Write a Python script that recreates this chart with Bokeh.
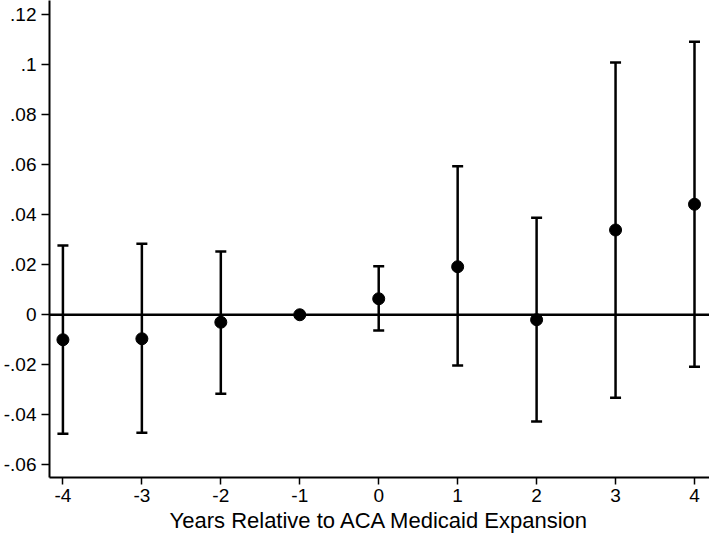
from bokeh.plotting import figure
from bokeh.models import (ColumnDataSource, Whisker, TeeHead, Span, FixedTicker,
                          CustomJSTickFormatter, Range1d)
from bokeh.embed import file_html
from bokeh.resources import INLINE

# ---- data ----
years = [-4, -3, -2, -1, 0, 1, 2, 3, 4]
estimate = [-0.0100, -0.0096, -0.0030, 0.0000, 0.0064, 0.0192, -0.0020, 0.0339, 0.0442]
ci_lower = [-0.0476, -0.0472, -0.0316, 0.0000, -0.0063, -0.0203, -0.0427, -0.0332, -0.0208]
ci_upper = [0.0277, 0.0284, 0.0253, 0.0000, 0.0194, 0.0594, 0.0388, 0.1009, 0.1092]
x_ticks = [-4, -3, -2, -1, 0, 1, 2, 3, 4]
y_ticks = [-0.06, -0.04, -0.02, 0.0, 0.02, 0.04, 0.06, 0.08, 0.1, 0.12]
x_title = "Years Relative to ACA Medicaid Expansion"

FONT = "Liberation Sans"

pts = ColumnDataSource(dict(x=years, y=estimate))
wh_idx = [i for i in range(len(years)) if ci_lower[i] != ci_upper[i]]
ci = ColumnDataSource(dict(x=[years[i] for i in wh_idx],
                           lower=[ci_lower[i] for i in wh_idx],
                           upper=[ci_upper[i] for i in wh_idx]))

p = figure(width=709, height=535, output_backend="svg", toolbar_location=None,
           x_range=Range1d(-4.17, 4.19), y_range=Range1d(-0.0651, 0.1257),
           min_border_left=48, min_border_right=0, min_border_top=0,
           min_border_bottom=58)
p.outline_line_color = None
p.background_fill_color = "white"
p.border_fill_color = "white"
p.xgrid.grid_line_color = None
p.ygrid.grid_line_color = None

zero = Span(location=0, dimension="width", line_color="black", line_width=2.5)
p.add_layout(zero)

wh = Whisker(source=ci, base="x", lower="lower", upper="upper",
             line_color="black", line_width=2.5,
             upper_head=TeeHead(size=11, line_color="black", line_width=2.5),
             lower_head=TeeHead(size=11, line_color="black", line_width=2.5))
p.add_layout(wh)

p.scatter("x", "y", source=pts, size=12, color="black", line_color="black")

yfmt = CustomJSTickFormatter(code="""
let s = tick.toFixed(2).replace(/0+$/, '').replace(/\\.$/, '');
s = s.replace(/^(-?)0\\./, '$1.');
if (s === '-0') { s = '0'; }
return s;
""")
xfmt = CustomJSTickFormatter(code="return Math.round(tick).toString();")

for ax in (p.xaxis[0], p.yaxis[0]):
    ax.axis_line_color = "black"
    ax.axis_line_width = 2
    ax.major_tick_line_color = "black"
    ax.major_tick_line_width = 1.5
    ax.minor_tick_line_color = None
    ax.major_tick_in = 0
    ax.major_label_text_font = FONT
    ax.major_label_text_font_size = "19px"
    ax.major_label_text_color = "black"

p.xaxis.ticker = FixedTicker(ticks=x_ticks)
p.xaxis.formatter = xfmt
p.xaxis.major_tick_out = 7
p.xaxis.major_label_standoff = 4
p.xaxis.axis_label = x_title
p.xaxis.axis_label_text_font = FONT
p.xaxis.axis_label_text_font_size = "22px"
p.xaxis.axis_label_text_font_style = "normal"
p.xaxis.axis_label_text_color = "black"
p.xaxis.axis_label_standoff = 3

p.yaxis.ticker = FixedTicker(ticks=y_ticks)
p.yaxis.formatter = yfmt
p.yaxis.major_tick_out = 8
p.yaxis.major_label_standoff = 5
p.yaxis.major_label_orientation = "horizontal"

open("out.html", "w").write(file_html(p, INLINE))
